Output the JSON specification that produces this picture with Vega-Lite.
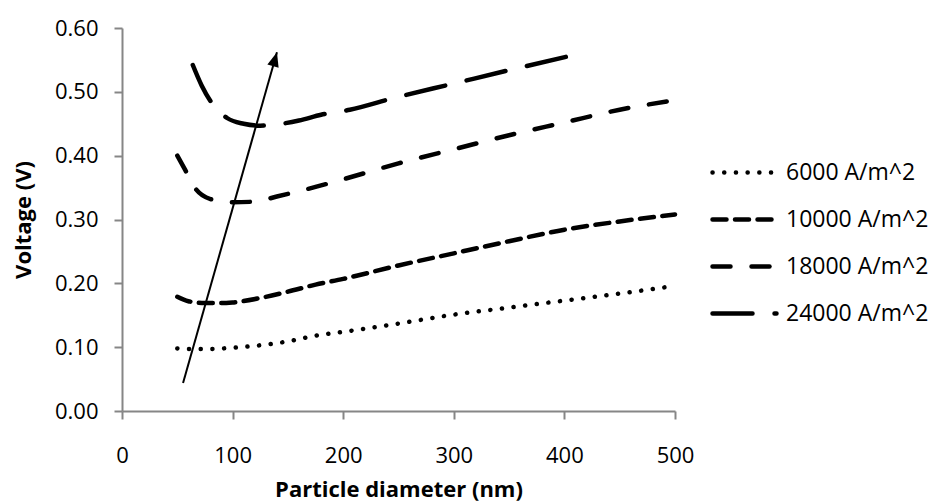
{
  "$schema": "https://vega.github.io/schema/vega-lite/v6.json",
  "width": 553,
  "height": 383,
  "autosize": {"type": "none"},
  "padding": {"left": 122, "top": 28, "right": 258, "bottom": 90},
  "background": "white",
  "config": {
    "view": {"stroke": null},
    "font": "Open Sans",
    "axis": {
      "grid": false,
      "domainColor": "#868686",
      "tickColor": "#868686",
      "domainWidth": 2,
      "tickWidth": 2,
      "tickSize": 8,
      "labelFontSize": 22,
      "labelColor": "black",
      "titleFontSize": 22,
      "titleFontWeight": "bold",
      "titleColor": "black",
      "labelFlush": false,
      "labelOverlap": false
    }
  },
  "datasets": {
    "curves": [
      {"series": "6000 A/m^2", "d": 50, "v": 0.098},
      {"series": "6000 A/m^2", "d": 62, "v": 0.097},
      {"series": "6000 A/m^2", "d": 75, "v": 0.097},
      {"series": "6000 A/m^2", "d": 100, "v": 0.099},
      {"series": "6000 A/m^2", "d": 125, "v": 0.103},
      {"series": "6000 A/m^2", "d": 150, "v": 0.109},
      {"series": "6000 A/m^2", "d": 175, "v": 0.118},
      {"series": "6000 A/m^2", "d": 200, "v": 0.124},
      {"series": "6000 A/m^2", "d": 250, "v": 0.137},
      {"series": "6000 A/m^2", "d": 300, "v": 0.151},
      {"series": "6000 A/m^2", "d": 350, "v": 0.162},
      {"series": "6000 A/m^2", "d": 400, "v": 0.173},
      {"series": "6000 A/m^2", "d": 450, "v": 0.184},
      {"series": "6000 A/m^2", "d": 500, "v": 0.196},
      {"series": "10000 A/m^2", "d": 50, "v": 0.179},
      {"series": "10000 A/m^2", "d": 60, "v": 0.172},
      {"series": "10000 A/m^2", "d": 75, "v": 0.169},
      {"series": "10000 A/m^2", "d": 90, "v": 0.169},
      {"series": "10000 A/m^2", "d": 100, "v": 0.170},
      {"series": "10000 A/m^2", "d": 125, "v": 0.177},
      {"series": "10000 A/m^2", "d": 150, "v": 0.187},
      {"series": "10000 A/m^2", "d": 175, "v": 0.198},
      {"series": "10000 A/m^2", "d": 200, "v": 0.207},
      {"series": "10000 A/m^2", "d": 250, "v": 0.228},
      {"series": "10000 A/m^2", "d": 300, "v": 0.247},
      {"series": "10000 A/m^2", "d": 350, "v": 0.266},
      {"series": "10000 A/m^2", "d": 400, "v": 0.284},
      {"series": "10000 A/m^2", "d": 450, "v": 0.297},
      {"series": "10000 A/m^2", "d": 500, "v": 0.308},
      {"series": "18000 A/m^2", "d": 50, "v": 0.400},
      {"series": "18000 A/m^2", "d": 57, "v": 0.378},
      {"series": "18000 A/m^2", "d": 67, "v": 0.347},
      {"series": "18000 A/m^2", "d": 80, "v": 0.332},
      {"series": "18000 A/m^2", "d": 100, "v": 0.327},
      {"series": "18000 A/m^2", "d": 120, "v": 0.328},
      {"series": "18000 A/m^2", "d": 140, "v": 0.336},
      {"series": "18000 A/m^2", "d": 175, "v": 0.351},
      {"series": "18000 A/m^2", "d": 200, "v": 0.363},
      {"series": "18000 A/m^2", "d": 250, "v": 0.388},
      {"series": "18000 A/m^2", "d": 300, "v": 0.410},
      {"series": "18000 A/m^2", "d": 350, "v": 0.432},
      {"series": "18000 A/m^2", "d": 400, "v": 0.452},
      {"series": "18000 A/m^2", "d": 450, "v": 0.472},
      {"series": "18000 A/m^2", "d": 500, "v": 0.487},
      {"series": "24000 A/m^2", "d": 64, "v": 0.542},
      {"series": "24000 A/m^2", "d": 72, "v": 0.510},
      {"series": "24000 A/m^2", "d": 81, "v": 0.483},
      {"series": "24000 A/m^2", "d": 95, "v": 0.459},
      {"series": "24000 A/m^2", "d": 110, "v": 0.450},
      {"series": "24000 A/m^2", "d": 125, "v": 0.447},
      {"series": "24000 A/m^2", "d": 140, "v": 0.449},
      {"series": "24000 A/m^2", "d": 160, "v": 0.455},
      {"series": "24000 A/m^2", "d": 180, "v": 0.464},
      {"series": "24000 A/m^2", "d": 206, "v": 0.472},
      {"series": "24000 A/m^2", "d": 245, "v": 0.490},
      {"series": "24000 A/m^2", "d": 300, "v": 0.513},
      {"series": "24000 A/m^2", "d": 350, "v": 0.534},
      {"series": "24000 A/m^2", "d": 402, "v": 0.555}
    ],
    "arrow": [
      {"step": 1, "d": 55.2, "v": 0.044},
      {"step": 2, "d": 140.1, "v": 0.562}
    ],
    "head": [
      {"d": 140.1, "v": 0.562}
    ]
  },
  "layer": [
    {
      "data": {"name": "curves"},
      "mark": {"type": "line", "interpolate": "monotone", "strokeWidth": 4.5, "strokeCap": "round", "color": "black"},
      "encoding": {
        "x": {
          "field": "d", "type": "quantitative",
          "scale": {"domain": [0, 500], "nice": false, "zero": false},
          "axis": {"title": "Particle diameter (nm)", "values": [0, 100, 200, 300, 400, 500], "format": "d", "labelPadding": 26, "titlePadding": 13}
        },
        "y": {
          "field": "v", "type": "quantitative",
          "scale": {"domain": [0, 0.6], "nice": false},
          "axis": {"title": "Voltage (V)", "values": [0, 0.1, 0.2, 0.3, 0.4, 0.5, 0.6], "format": ".2f", "labelPadding": 16, "titlePadding": 19, "labelBaseline": "middle"}
        },
        "strokeDash": {
          "field": "series", "type": "nominal",
          "scale": {
            "domain": ["6000 A/m^2", "10000 A/m^2", "18000 A/m^2", "24000 A/m^2"],
            "range": [[0.1, 11.6], [14, 8.5], [18, 21], [40, 22]]
          },
          "legend": {
            "orient": "none",
            "legendX": 588,
            "legendY": 110,
            "title": null,
            "symbolType": "stroke",
            "symbolSize": 4096,
            "symbolStrokeWidth": 4.5,
            "symbolStrokeColor": "black",
            "labelFontSize": 23,
            "labelColor": "black",
            "labelOffset": 7,
            "rowPadding": -21,
            "encode": {"symbols": {"update": {"strokeCap": {"value": "round"}}}}
          }
        }
      }
    },
    {
      "data": {"name": "arrow"},
      "mark": {"type": "line", "strokeWidth": 2, "color": "black"},
      "encoding": {
        "x": {"field": "d", "type": "quantitative"},
        "y": {"field": "v", "type": "quantitative"},
        "order": {"field": "step"}
      }
    },
    {
      "data": {"name": "head"},
      "mark": {"type": "point", "shape": "M0,0L0.55,1.35L-0.55,1.35Z", "angle": 16, "filled": true, "size": 450, "color": "black", "opacity": 1, "strokeWidth": 0},
      "encoding": {
        "x": {"field": "d", "type": "quantitative"},
        "y": {"field": "v", "type": "quantitative"}
      }
    }
  ]
}
